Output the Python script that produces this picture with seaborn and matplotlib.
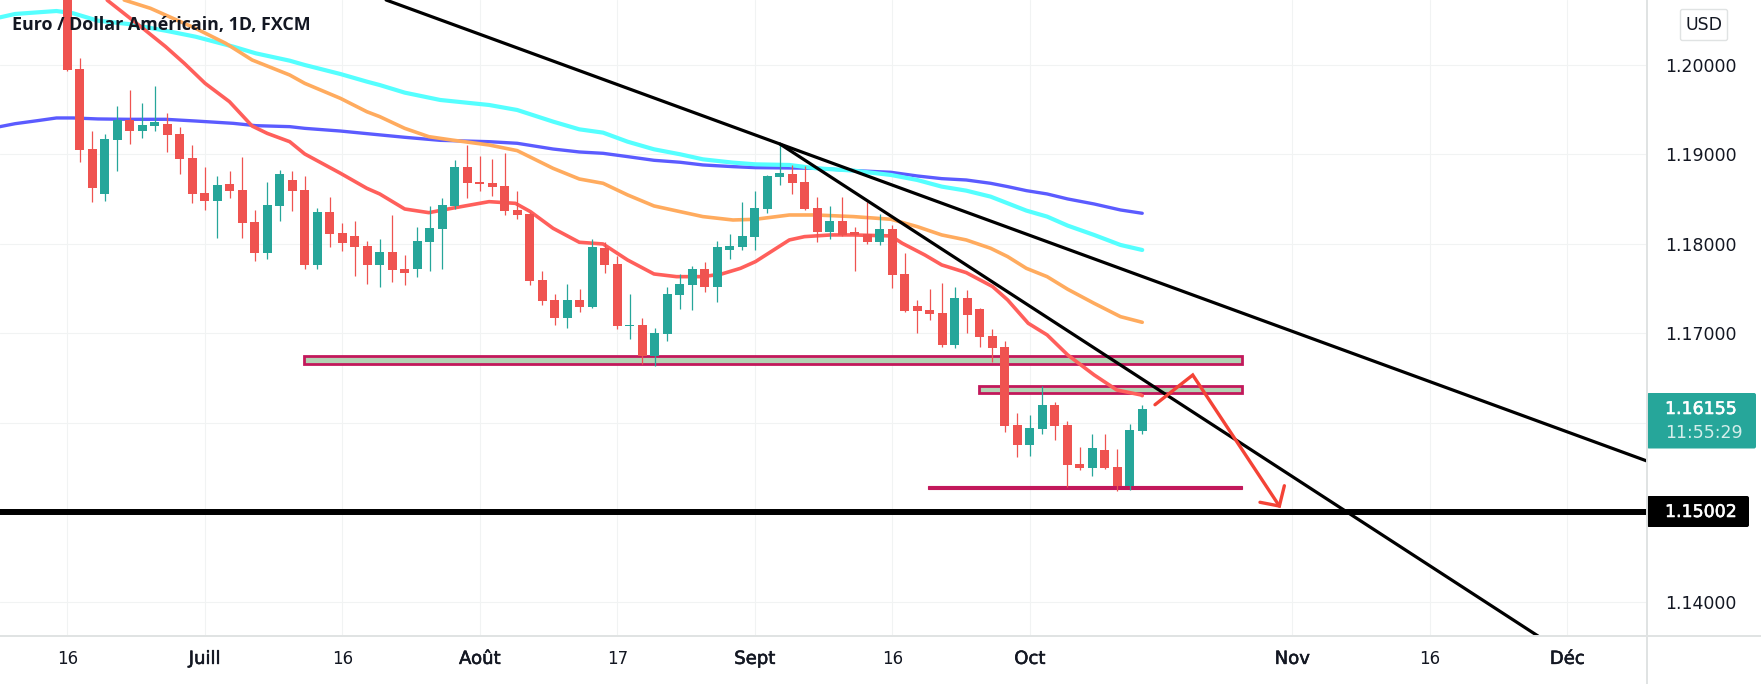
"""
EUR/USD daily candles with moving averages, trend lines and zones.
"""

import matplotlib
matplotlib.use("Agg")
import matplotlib.pyplot as plt
import matplotlib.patheffects as pe
from matplotlib.patches import FancyBboxPatch, Rectangle
from matplotlib.transforms import IdentityTransform
import numpy as np
import seaborn as sns

# Candles, one per trading day, bar 0 is 16 June
opens = [1.20850, 1.19951, 1.19057, 1.18555, 1.19158, 1.19381, 1.19258, 1.19314, 1.19337, 1.19225,
         1.18957, 1.18566, 1.18476, 1.18666, 1.18599, 1.18242, 1.17895, 1.18421, 1.18711, 1.18599,
         1.17761, 1.18354, 1.18119, 1.18085, 1.17974, 1.17761, 1.17907, 1.17717, 1.17717, 1.18018,
         1.18164, 1.18421, 1.18856, 1.18689, 1.18678, 1.18644, 1.18376, 1.18331, 1.17594, 1.17370,
         1.17169, 1.17370, 1.17292, 1.17952, 1.17773, 1.17080, 1.17091, 1.16745, 1.16991, 1.17426,
         1.17538, 1.17717, 1.17516, 1.17929, 1.17963, 1.18074, 1.18387, 1.18745, 1.18778, 1.18689,
         1.18398, 1.18130, 1.18253, 1.18130, 1.18108, 1.18019, 1.18164, 1.17661, 1.17304, 1.17259,
         1.17225, 1.16868, 1.17393, 1.17270, 1.16968, 1.16845, 1.15974, 1.15750, 1.15929, 1.16197,
         1.15974, 1.15538, 1.15493, 1.15694, 1.15504, 1.15292, 1.15907]
highs = [1.21000, 1.20070, 1.19258, 1.19225, 1.19538, 1.19717, 1.19571, 1.19761, 1.19460, 1.19303,
         1.19102, 1.18856, 1.18756, 1.18812, 1.18968, 1.18376, 1.18689, 1.18823, 1.18812, 1.18756,
         1.18398, 1.18521, 1.18231, 1.18253, 1.18030, 1.18052, 1.18320, 1.17873, 1.18186, 1.18421,
         1.18510, 1.18934, 1.19102, 1.18979, 1.18946, 1.19013, 1.18588, 1.18354, 1.17694, 1.17437,
         1.17549, 1.17493, 1.18052, 1.18019, 1.17862, 1.17438, 1.17170, 1.17058, 1.17516, 1.17661,
         1.17750, 1.17795, 1.18030, 1.18108, 1.18465, 1.18588, 1.18767, 1.19113, 1.18879, 1.18868,
         1.18521, 1.18421, 1.18521, 1.18186, 1.18465, 1.18331, 1.18208, 1.17896, 1.17371, 1.17493,
         1.17561, 1.17516, 1.17482, 1.17280, 1.17047, 1.16912, 1.16108, 1.16085, 1.16409, 1.16231,
         1.16018, 1.15728, 1.15873, 1.15873, 1.15706, 1.15985, 1.16197]
lows = [1.19929, 1.18912, 1.18465, 1.18476, 1.18812, 1.19113, 1.19180, 1.19258, 1.19024, 1.18778,
        1.18454, 1.18376, 1.18063, 1.18510, 1.18063, 1.17806, 1.17828, 1.18253, 1.18365, 1.17717,
        1.17717, 1.17963, 1.17918, 1.17639, 1.17549, 1.17516, 1.17572, 1.17538, 1.17627, 1.17694,
        1.17717, 1.18387, 1.18510, 1.18588, 1.18532, 1.18320, 1.18275, 1.17538, 1.17315, 1.17091,
        1.17058, 1.17236, 1.17281, 1.17672, 1.17047, 1.16935, 1.16656, 1.16633, 1.16913, 1.17270,
        1.17259, 1.17460, 1.17348, 1.17829, 1.17929, 1.17929, 1.18343, 1.18655, 1.18555, 1.18376,
        1.18019, 1.18052, 1.18086, 1.17695, 1.17996, 1.17985, 1.17505, 1.17240, 1.17002, 1.17147,
        1.16846, 1.16834, 1.17002, 1.16846, 1.16678, 1.15895, 1.15616, 1.15627, 1.15873, 1.15806,
        1.15281, 1.15471, 1.15404, 1.15482, 1.15236, 1.15247, 1.15873]
closes = [1.19940, 1.19046, 1.18622, 1.19169, 1.19381, 1.19258, 1.19325, 1.19359, 1.19214, 1.18946,
          1.18555, 1.18476, 1.18655, 1.18588, 1.18231, 1.17895, 1.18432, 1.18778, 1.18588, 1.17761,
          1.18354, 1.18108, 1.18007, 1.17963, 1.17761, 1.17907, 1.17706, 1.17672, 1.18030, 1.18175,
          1.18432, 1.18856, 1.18678, 1.18666, 1.18633, 1.18365, 1.18320, 1.17583, 1.17359, 1.17169,
          1.17370, 1.17292, 1.17963, 1.17762, 1.17080, 1.17091, 1.16745, 1.17002, 1.17438, 1.17549,
          1.17717, 1.17516, 1.17963, 1.17974, 1.18086, 1.18398, 1.18756, 1.18789, 1.18678, 1.18387,
          1.18130, 1.18253, 1.18097, 1.18097, 1.18019, 1.18164, 1.17650, 1.17248, 1.17248, 1.17214,
          1.16868, 1.17393, 1.17203, 1.16957, 1.16834, 1.15962, 1.15750, 1.15940, 1.16197, 1.15962,
          1.15527, 1.15493, 1.15717, 1.15493, 1.15292, 1.15918, 1.16155]

# Moving averages, read at selected bars
ma_red_bars = [3.2, 6.06, 7.87, 9.37, 11.03, 12.98, 14.79, 16.0, 17.8, 19.0, 21.86, 23.97, 25.0, 27.0,
               28.93, 30.74, 33.75, 35.86, 37.06, 38.87, 40.97, 42.87, 44.83, 46.94, 48.74, 50.85,
               52.36, 53.86, 55.06, 57.77, 58.98, 61.08, 62.89, 65.9, 66.8, 68.61, 69.96, 71.92,
               74.03, 75.23, 76.88, 78.39, 80.04, 82.15, 83.96, 85.91, 86.0]
ma_red_vals = [1.2072, 1.20405, 1.20201, 1.20014, 1.19791, 1.19586, 1.19314, 1.19232, 1.19139, 1.19002,
               1.18786, 1.18618, 1.18555, 1.18387, 1.18346, 1.18394, 1.18469, 1.18450, 1.18357,
               1.18171, 1.18015, 1.17996, 1.17817, 1.17661, 1.17631, 1.17631, 1.17661, 1.17724,
               1.17799, 1.18041, 1.18078, 1.18097, 1.18097, 1.18086, 1.18004, 1.17873, 1.17762,
               1.17676, 1.17520, 1.17371, 1.17110, 1.16980, 1.16756, 1.16533, 1.16365, 1.16309, 1.16301]

ma_orange_bars = [4.56, 6.66, 10.27, 12.68, 14.79, 17.8, 19.0, 21.86, 23.97, 25.0, 27.0, 28.93, 30.74,
                  33.75, 36.0, 38.87, 40.97, 42.87, 44.83, 46.94, 49.04, 50.85, 53.26, 55.06, 57.77,
                  59.88, 62.89, 65.9, 68.0, 69.96, 71.92, 73.87, 75.23, 76.73, 78.39, 80.04, 82.15,
                  84.26, 86.0]
ma_orange_vals = [1.20722, 1.20629, 1.20405, 1.20238, 1.20052, 1.19884, 1.19791, 1.19623, 1.19474,
                  1.19419, 1.19288, 1.19195, 1.19158, 1.19102, 1.19039, 1.18841, 1.18722, 1.18674,
                  1.18544, 1.18421, 1.18357, 1.18302, 1.18264, 1.18272, 1.18320, 1.18320, 1.18302,
                  1.18272, 1.18190, 1.18097, 1.18041, 1.17948, 1.17855, 1.17724, 1.17631, 1.17490,
                  1.17333, 1.17184, 1.17121]

ma_cyan_bars = [-5.38, -4.17, -2.37, -0.86, 0.49, 2.45, 4.86, 7.87, 10.27, 13.28, 15.09, 17.8, 19.0,
                21.86, 23.97, 25.0, 27.0, 29.84, 33.75, 36.0, 38.87, 40.97, 42.87, 44.83, 46.94,
                49.04, 50.85, 53.26, 55.06, 57.77, 59.88, 62.89, 65.9, 68.0, 69.96, 71.92, 73.87,
                75.23, 76.73, 78.39, 80.04, 82.15, 84.26, 86.0]
ma_cyan_vals = [1.20528, 1.20566, 1.20584, 1.20599, 1.20573, 1.20491, 1.20454, 1.20379, 1.20312,
                1.20201, 1.20126, 1.20044, 1.19996, 1.19895, 1.19810, 1.19772, 1.19687, 1.19605,
                1.19549, 1.19493, 1.19363, 1.19277, 1.19240, 1.19139, 1.19054, 1.18998, 1.18942,
                1.18905, 1.18886, 1.18879, 1.18842, 1.18816, 1.18767, 1.18711, 1.18637, 1.18592,
                1.18525, 1.18451, 1.18369, 1.18302, 1.18201, 1.18097, 1.17985, 1.17929]

ma_blue_bars = [-5.38, -4.17, -2.37, -0.86, 0.49, 2.45, 4.86, 7.87, 10.27, 13.28, 15.09, 17.8, 19.0,
                21.86, 23.97, 27.0, 29.84, 33.75, 36.0, 38.87, 40.97, 42.87, 44.83, 46.94, 49.04,
                50.85, 53.26, 55.06, 59.88, 62.89, 65.9, 68.0, 69.96, 71.92, 73.87, 75.23, 76.73,
                78.39, 80.04, 82.15, 84.26, 86.0]
ma_blue_vals = [1.19307, 1.19340, 1.19374, 1.19404, 1.19404, 1.19393, 1.19389, 1.19389, 1.19370,
                1.19344, 1.19318, 1.19307, 1.19288, 1.19258, 1.19229, 1.19188, 1.19154, 1.19139,
                1.19121, 1.19057, 1.19024, 1.19009, 1.18972, 1.18931, 1.18909, 1.18879, 1.18860,
                1.18849, 1.18842, 1.18816, 1.18797, 1.18756, 1.18726, 1.18711, 1.18674, 1.18637,
                1.18592, 1.18555, 1.18499, 1.18443, 1.18376, 1.18339]

# Drawings on the chart
trend_long = [(57.02, 1.19113), (126.38, 1.15571)]
trend_steep = [(57.02, 1.19113), (117.66, 1.13616)]
support_level = 1.15002
zone_top = (18.98, 94.02, 1.16653, 1.16750)
zone_mid = (72.98, 94.02, 1.16334, 1.16404)
zone_low = (68.86, 94.02, 1.15255, 1.15295)
arrow_bars = [87.02, 90.04, 96.97]
arrow_vals = [1.16200, 1.16532, 1.15068]
arrow_head_bars = [95.42, 96.97, 97.37]
arrow_head_vals = [1.15110, 1.15068, 1.15295]

# Axis labels
y_ticks = [1.14, 1.15, 1.16, 1.17, 1.18, 1.19, 1.20]
y_labels = ["1.14000", "", "", "1.17000", "1.18000", "1.19000", "1.20000"]
x_ticks = [0, 11, 22, 33, 44, 55, 66, 77, 98, 109, 120]
x_labels = ["16", "Juill", "16", "Août", "17", "Sept", "16", "Oct", "Nov", "16", "Déc"]

GREEN = "#26a69a"
RED = "#ef5350"
CRIMSON = "#c2185b"
ZONE_FILL = "#b2d3b4"
TEXT = "#131722"
BORDER = "#e0e3e3"
W, H = 1761, 684

sns.set_theme(style="whitegrid", rc={"grid.color": "#f1f3f3", "grid.linewidth": 0.8,
                                     "axes.edgecolor": BORDER, "axes.linewidth": 1.0})
plt.rcParams["font.family"] = ["DejaVu Sans"]

fig = plt.figure(figsize=(W / 100, H / 100), dpi=100)
ax = fig.add_axes([0, 1 - 636 / H, 1647 / W, 636 / H])
ax.set_xlim(-5.376, 126.38)
ax.set_ylim(1.13616, 1.20722)
ax.set_axisbelow(True)

# Zones sit under everything else
for x0, x1, y0, y1 in (zone_top, zone_mid):
    ax.add_patch(Rectangle((x0, y0), x1 - x0, y1 - y0, facecolor=ZONE_FILL, edgecolor=CRIMSON,
                           linewidth=2.0, zorder=1.5))
x0, x1, y0, y1 = zone_low
ax.add_patch(Rectangle((x0, y0), x1 - x0, y1 - y0, facecolor=CRIMSON, edgecolor=CRIMSON,
                       linewidth=0.8, zorder=1.5))

# Moving averages
sns.lineplot(x=ma_blue_bars, y=ma_blue_vals, color="#5b5bff", linewidth=2.4, ax=ax, zorder=2, estimator=None, sort=False)
sns.lineplot(x=ma_cyan_bars, y=ma_cyan_vals, color="#55ffff", linewidth=3.0, ax=ax, zorder=2, estimator=None, sort=False)
sns.lineplot(x=ma_orange_bars, y=ma_orange_vals, color="#ffab5e", linewidth=2.6, ax=ax, zorder=2, estimator=None, sort=False)
sns.lineplot(x=ma_red_bars, y=ma_red_vals, color="#ff5f5b", linewidth=2.6, ax=ax, zorder=2, estimator=None, sort=False)

# Candles
bars = np.arange(len(opens))
o, h, l, c = map(np.array, (opens, highs, lows, closes))
colors = np.where(c >= o, GREEN, RED)
ax.vlines(bars, l, h, colors=colors, linewidth=0.9, zorder=3)
ax.bar(bars, np.maximum(np.abs(c - o), 0.00012), bottom=np.minimum(o, c), width=0.72, color=colors,
       linewidth=0, zorder=3)

# Trend lines and the support level
ax.axline(trend_long[0], trend_long[1], color="black", linewidth=2.3, zorder=4)
ax.plot(*zip(*trend_steep), color="black", linewidth=2.3, zorder=4)
ax.axhline(support_level, color="black", linewidth=4.3, zorder=4)

# Hand drawn arrow
ax.plot(arrow_bars, arrow_vals, color="#f44336", linewidth=2.4, zorder=5, solid_joinstyle="miter")
ax.plot(arrow_head_bars, arrow_head_vals, color="#f44336", linewidth=2.4, zorder=5, solid_joinstyle="miter")

ax.yaxis.tick_right()
ax.set_yticks(y_ticks, y_labels)
ax.set_xticks(x_ticks, x_labels)
ax.tick_params(axis="y", length=0, pad=13, labelsize=12.5, labelcolor=TEXT)
ax.tick_params(axis="x", length=0, pad=10, labelsize=12, labelcolor=TEXT)
for label in ax.get_xticklabels():
    if not label.get_text().isdigit():
        label.set_fontsize(13)
        label.set_path_effects([pe.withStroke(linewidth=0.4, foreground=TEXT)])
ax.grid(True)
for side in ("left", "top"):
    ax.spines[side].set_visible(False)
for side in ("right", "bottom"):
    ax.spines[side].set_color(BORDER)
    ax.spines[side].set_linewidth(1.4)

# bottom axis rule and price scale rule run to the image edges
fig.add_artist(plt.Line2D([1647 / W, 1647 / W], [0, 1], color=BORDER, linewidth=1.4))
fig.add_artist(plt.Line2D([0, 1], [1 - 636 / H, 1 - 636 / H], color=BORDER, linewidth=1.4))


def px_box(x0, y0, x1, y1, **kwargs):
    """Rounded box given in image pixels, y measured from the top."""
    box = FancyBboxPatch((x0, H - y1), x1 - x0, y1 - y0, boxstyle="round,pad=0,rounding_size=2",
                         transform=IdentityTransform(), **kwargs)
    fig.add_artist(box)


def px_text(x, y, text, **kwargs):
    return fig.text(x / W, 1 - y / H, text, va="center", **kwargs)


px_text(12.5, 25, "Euro / Dollar Américain, 1D, FXCM", family="Open Sans", fontweight="bold",
        fontsize=12.9, color=TEXT, zorder=6)

px_box(1680.5, 9.5, 1727.5, 40.5, facecolor="white", edgecolor=BORDER, linewidth=1)
px_text(1704, 25, "USD", ha="center", fontsize=12.5, color=TEXT)

px_box(1647, 393, 1756, 448.5, facecolor=GREEN, edgecolor="none")
tag_price = px_text(1665, 409, "1.16155", fontsize=12.5, color="white")
tag_timer = px_text(1665, 433, "11:55:29", fontsize=12.5, color="#d4eeeb")
px_box(1647, 496, 1749, 527, facecolor="black", edgecolor="none")
tag_level = px_text(1665, 512, "1.15002", fontsize=12.5, color="white")
tag_price.set_path_effects([pe.withStroke(linewidth=0.4, foreground="white")])
tag_level.set_path_effects([pe.withStroke(linewidth=0.4, foreground="white")])

fig.savefig("out.png", dpi=100)
